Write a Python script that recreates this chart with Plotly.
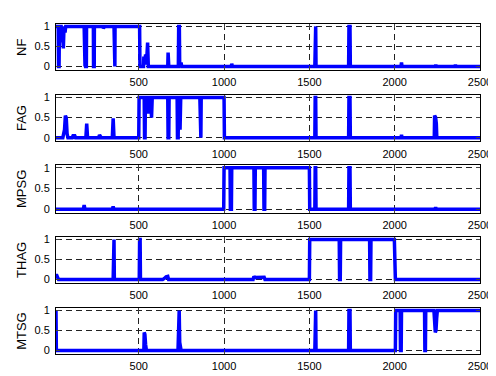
import plotly.graph_objects as go

names = ["NF", "FAG", "MPSG", "THAG", "MTSG"]

nf_x = [15, 28, 30, 33, 35, 45, 48, 52, 58, 62, 68, 72, 180, 181, 185, 186, 188, 189, 193, 194,
        234, 235, 239, 240, 290, 293, 300, 355, 356, 360, 361, 505, 507, 528, 530, 535, 540, 545,
        552, 556, 670, 672, 676, 732, 734, 738, 740, 748, 752, 1042, 1045, 1049, 1532, 1534, 1537,
        1539, 1730, 1732, 1738, 1740, 2037, 2040, 2043, 2238, 2241, 2244, 2353, 2356, 2359, 2500]
nf_y = [1, 1, 0, 0, 1, 1, 0.6, 1, 0.45, 1, 0.85, 1, 1, 0, 0, 1, 1, 0, 0, 1,
        1, 0, 0, 1, 1, 0.95, 1, 1, 0, 0, 1, 1, 0, 0, 0.25, 0.1, 0.3, 0.05,
        0.6, 0, 0, 0.35, 0, 0, 1, 1, 0, 0.1, 0, 0, 0.07, 0, 0, 1, 1,
        0, 0, 1, 1, 0, 0, 0.1, 0, 0, 0.05, 0, 0, 0.05, 0, 0]

fag_x = [15, 55, 60, 65, 70, 75, 80, 85, 110, 115, 125, 130, 190, 195, 200, 265, 270, 280, 345, 350,
         355, 500, 502, 532, 534, 537, 539, 552, 555, 558, 570, 575, 579, 670, 672, 676, 678, 725,
         727, 731, 733, 740, 742, 746, 858, 860, 864, 866, 1000, 1002, 1532, 1534, 1537, 1539,
         1730, 1732, 1738, 1740, 2037, 2040, 2043, 2232, 2234, 2240, 2244, 2247, 2500]
fag_y = [0, 0, 0.1, 0.2, 0.55, 0.5, 0.1, 0, 0, 0.05, 0.05, 0, 0, 0.35, 0, 0, 0.07, 0, 0, 0.48,
         0, 0, 1, 1, 0, 0, 1, 1, 0.6, 1, 1, 0.5, 1, 1, 0, 0, 1, 1,
         0, 0, 1, 1, 0.2, 1, 1, 0, 0, 1, 1, 0, 0, 1, 1, 0,
         0, 1, 1, 0, 0, 0.07, 0, 0, 0.55, 0.5, 0.35, 0, 0]

mpsg_x = [15, 175, 180, 185, 345, 350, 355, 998, 1000, 1035, 1037, 1043, 1045, 1175, 1177, 1181, 1183,
          1232, 1234, 1238, 1240, 1500, 1502, 1532, 1534, 1537, 1539, 1730, 1732, 1738, 1740,
          2236, 2240, 2244, 2500]
mpsg_y = [0, 0, 0.1, 0, 0, 0.07, 0, 0, 1, 1, 0, 0, 1, 1, 0, 0, 1,
          1, 0, 0, 1, 1, 0, 0, 1, 1, 0, 0, 1, 1, 0,
          0, 0.05, 0, 0]

thag_x = [15, 20, 25, 30, 350, 352, 355, 357, 503, 505, 508, 510, 640, 650, 660, 670, 675, 1170, 1175,
          1180, 1230, 1235, 1240, 1500, 1502, 1675, 1677, 1681, 1683, 1853, 1855, 1859, 1861, 1998,
          2004, 2500]
thag_y = [0.1, 0.1, 0.05, 0, 0, 1, 1, 0, 0, 1, 1, 0, 0, 0.03, 0.07, 0.08, 0, 0, 0.08,
          0.05, 0.05, 0.06, 0, 0, 1, 1, 0, 0, 1, 1, 0, 0, 1, 1,
          0, 0]

mtsg_x = [15, 17, 530, 532, 536, 540, 545, 730, 732, 737, 740, 745, 748, 1532, 1534, 1537, 1539,
          1730, 1732, 1738, 1740, 2004, 2006, 2032, 2034, 2038, 2040, 2175, 2177, 2180, 2182, 2230,
          2233, 2238, 2242, 2246, 2250, 2500]
mtsg_y = [1, 0, 0, 0.45, 0.4, 0.15, 0, 0, 1, 1, 0.2, 0.1, 0, 0, 1, 1, 0,
          0, 1, 1, 0, 0, 1, 1, 0, 0, 1, 1, 0, 0, 1, 1,
          0.8, 0.45, 0.5, 0.8, 1, 1]

series_x = [nf_x, fag_x, mpsg_x, thag_x, mtsg_x]
series_y = [nf_y, fag_y, mpsg_y, thag_y, mtsg_y]

x_ticks = [500, 1000, 1500, 2000, 2500]
y_ticks = [0, 0.5, 1]

W, H = 496, 376
ML, MR, MT, MB = 48, 14, 14, 17
plot_h = H - MT - MB
# panel top/bottom in pixels
panels_px = [(14, 62.3), (88.3, 136.7), (161.7, 211.7), (236.7, 285), (311, 359)]

fig = go.Figure()
font = dict(family="Liberation Sans, Arial, sans-serif", size=11, color="black")

for i, (name, xs, ys) in enumerate(zip(names, series_x, series_y)):
    k = i + 1
    top, bot = panels_px[i]
    d0 = (H - MB - bot) / plot_h
    d1 = (H - MB - top) / plot_h
    fig.add_trace(go.Scatter(x=xs, y=ys, mode="lines",
                             line=dict(color="#0000ff", width=3.5),
                             xaxis=f"x{k}", yaxis=f"y{k}", showlegend=False,
                             hoverinfo="skip"))
    xa = dict(domain=[0, 1], range=[15, 2500], tickvals=x_ticks,
              ticktext=[str(v) for v in x_ticks], ticks="inside", ticklen=4,
              showline=True, linecolor="black", linewidth=1, mirror="ticks",
              showgrid=True, gridcolor="#222", gridwidth=1, griddash="6px,4px",
              zeroline=False, tickfont=font, anchor=f"y{k}", ticklabelstandoff=2)
    ya = dict(domain=[d0, d1], range=[-0.09, 1.06], tickvals=y_ticks,
              ticktext=["0", "0.5", "1"], ticks="inside", ticklen=4,
              showline=True, linecolor="black", linewidth=1, mirror="ticks",
              showgrid=True, gridcolor="#222", gridwidth=1, griddash="6px,4px",
              zeroline=False, tickfont=font, anchor=f"x{k}", ticklabelstandoff=3)
    fig.layout[f"xaxis{k}" if k > 1 else "xaxis"] = xa
    fig.layout[f"yaxis{k}" if k > 1 else "yaxis"] = ya
    fig.add_annotation(text=name, textangle=-90, xref="paper", yref="paper",
                       x=(12 - ML) / (W - ML - MR), y=(d0 + d1) / 2,
                       xanchor="center", yanchor="middle", showarrow=False,
                       font=dict(family="Liberation Sans, Arial, sans-serif", size=13,
                                 color="black"))

fig.update_layout(width=W, height=H, margin=dict(l=ML, r=MR, t=MT, b=MB),
                  paper_bgcolor="white", plot_bgcolor="white")

fig.write_html("out.html")
